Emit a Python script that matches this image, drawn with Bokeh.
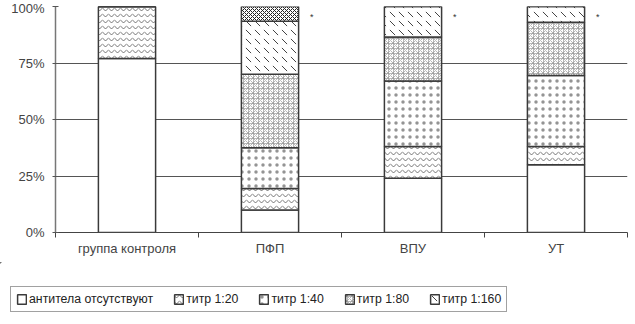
from bokeh.plotting import figure
from bokeh.layouts import column, row
from bokeh.models import Range1d, FixedTicker, Legend, LegendItem, ColumnDataSource
from bokeh.core.properties import value
from bokeh.embed import file_html
from bokeh.resources import INLINE

categories = ["группа контроля", "ПФП", "ВПУ", "УТ"]
absent = [77, 10, 24, 30]
t20 = [23, 9.5, 14, 8]
t40 = [0, 18, 29, 31.5]
t80 = [0, 32.5, 19.5, 23.5]
t160 = [0, 23.5, 13.5, 7]
t320 = [0, 6.5, 0, 0]
stars = ["", "*", "*", "*"]
legend_labels = ["антитела отсутствуют", "титр 1:20", "титр 1:40", "титр 1:80", "титр 1:160"]
y_ticks = [0, 25, 50, 75, 100]

xs = [i + 0.5 for i in range(len(categories))]
series = [absent, t20, t40, t80, t160, t320]
src = ColumnDataSource(dict(x=xs, star=stars, top=[100] * len(categories), sx=[x + 0.28 for x in xs]))

p = figure(frame_width=572, frame_height=226, output_backend="svg", toolbar_location=None,
           x_range=Range1d(0, len(categories)), y_range=Range1d(0, 100),
           min_border_left=55, min_border_right=8, min_border_top=6, min_border_bottom=30)
p.outline_line_color = None
p.background_fill_color = "white"

patterns = [None, "horizontal_wave", "dot", "criss_cross", "left_diagonal_dash", "diagonal_cross"]
scales = [12, 6, 7, 5, 9, 4]
hcolors = ["black", "#555555", "#666666", "#999999", "#444444", "#222222"]
weights = [1, 0.8, 0.3, 0.7, 1, 1]
alphas = [1, 1, 0.7, 1, 1, 1]

styles = []
renderers = []
bottom = [0] * len(categories)
for vals, pat, sc, hc, hw, ha in zip(series, patterns, scales, hcolors, weights, alphas):
    top = [b + v for b, v in zip(bottom, vals)]
    bsrc = ColumnDataSource(dict(x=xs, bottom=bottom, top=top))
    st = dict(fill_color="white", line_color="#3a3a3a", line_width=1.5)
    if pat:
        st.update(hatch_pattern=pat, hatch_scale=sc, hatch_color=hc, hatch_weight=hw, hatch_alpha=ha)
    styles.append(st)
    renderers.append(p.vbar(x="x", width=0.4, bottom="bottom", top="top", source=bsrc, **st))
    bottom = top

p.text(x="sx", y="top", text="star", source=src, text_font=value("Liberation Sans"),
       text_font_size="9px", text_baseline="top", text_align="left", y_offset=5, text_color="#333333")

p.yaxis.ticker = FixedTicker(ticks=y_ticks)
p.yaxis.major_label_overrides = {t: f"{t}%" for t in y_ticks}
p.yaxis.minor_tick_line_color = None
p.yaxis.major_tick_out = 3
p.yaxis.major_tick_in = 3
p.yaxis.axis_line_color = "#777777"
p.yaxis.axis_line_width = 1.5
p.yaxis.major_tick_line_color = "#555555"
p.yaxis.major_label_text_font = "Liberation Sans"
p.yaxis.major_label_text_font_size = "13px"
p.yaxis.major_label_text_color = "#444444"
p.yaxis.major_label_standoff = 8

p.xaxis.ticker = FixedTicker(ticks=xs, minor_ticks=list(range(len(categories) + 1)))
p.xaxis.major_label_overrides = {x: c for x, c in zip(xs, categories)}
p.xaxis.major_tick_out = 0
p.xaxis.major_tick_in = 0
p.xaxis.minor_tick_out = 5
p.xaxis.minor_tick_in = 0
p.xaxis.minor_tick_line_color = "#444444"
p.xaxis.axis_line_color = "#444444"
p.xaxis.major_label_text_font = "Liberation Sans"
p.xaxis.major_label_text_font_size = "13px"
p.xaxis.major_label_text_color = "#444444"
p.xaxis.major_label_standoff = 3

p.xgrid.grid_line_color = None
p.ygrid.ticker = FixedTicker(ticks=y_ticks[1:])
p.ygrid.grid_line_color = "#555555"
p.ygrid.grid_line_width = 1

# legend panel as a separate, axis-less figure (its proxy bars sit outside the visible range)
lg = figure(width=635, height=62, output_backend="svg", toolbar_location=None,
            x_axis_type=None, y_axis_type=None, x_range=Range1d(0, 1), y_range=Range1d(0, 1),
            min_border=0)
lg.outline_line_color = None
lg.grid.visible = False
lg_renderers = [lg.vbar(x=[-5], bottom=[5], top=[6], width=0.1, **st)
                for st in styles[:len(legend_labels)]]
items = [LegendItem(label=lab, renderers=[r]) for lab, r in zip(legend_labels, lg_renderers)]
legend = Legend(items=items, orientation="horizontal", location=(10, 12),
                label_text_font="Liberation Sans", label_text_font_size="12.3px",
                label_text_color="#222222", glyph_width=11, glyph_height=12,
                label_standoff=2, spacing=20, padding=5, margin=0,
                border_line_color="#444444", border_line_width=1,
                label_height=14)
lg.add_layout(legend, "center")

layout = column(row(p), row(lg), spacing=0)
open("out.html", "w").write(file_html(layout, INLINE))
